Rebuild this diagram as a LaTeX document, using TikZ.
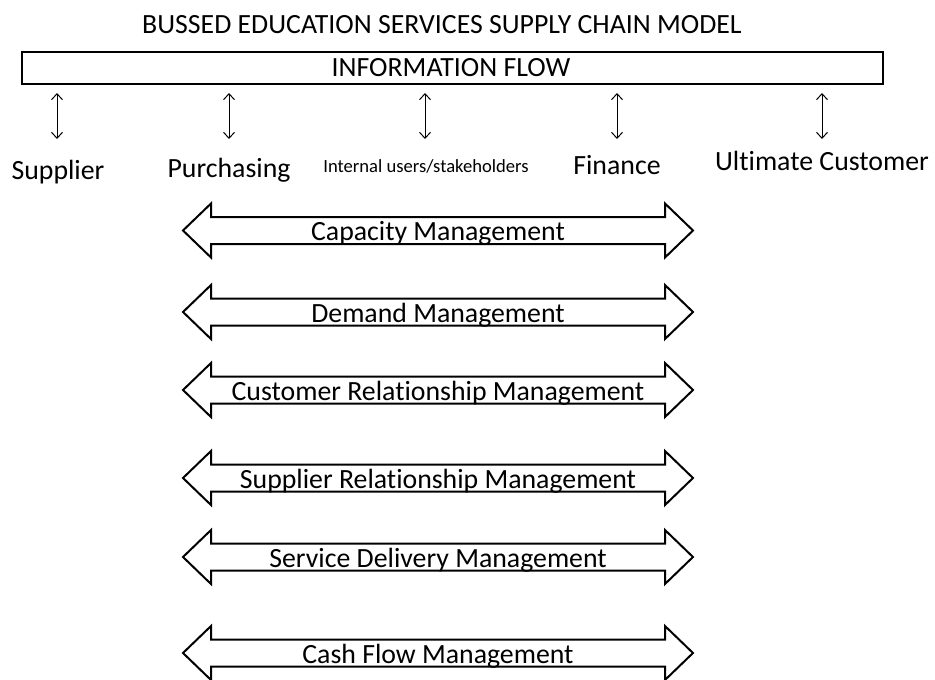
\documentclass[tikz,border=0pt]{standalone}
\usepackage{fontspec}
\setmainfont{Carlito}[Ligatures={NoCommon,NoContextual}]
\usetikzlibrary{arrows.meta}
\newcommand{\blockarrowat}[3]{%
  \draw[blockarrow] (183,#1) -- (211,#1-27) -- (211,#1-13.5) -- (665,#1-13.5) -- (665,#1-27)
    -- (693,#1) -- (665,#1+27) -- (665,#1+13.5) -- (211,#1+13.5) -- (211,#1+27) -- cycle;
  \node[bigtext, anchor=base] (#2) at (438,#1+10) {#3};
}
\begin{document}
\begin{tikzpicture}[x=1pt,y=-1pt,
  bigtext/.style={font=\fontsize{27.8}{33}\selectfont, inner sep=0pt},
  smalltext/.style={font=\fontsize{18.6}{22}\selectfont, inner sep=0pt},
  infobox/.style={draw, line width=2.6pt},
  updown/.style={{Straight Barb[length=6pt,width=11pt]}-{Straight Barb[length=6pt,width=11pt]}, line width=1pt},
  blockarrow/.style={draw, line width=2pt, fill=white, line join=miter}
]
\useasboundingbox[fill=white] (0,0) rectangle (935,680);

% title
\node[bigtext, anchor=base] (title) at (442,34) {BUSSED EDUCATION SERVICES SUPPLY CHAIN MODEL};

% information flow box
\draw[infobox] (22,52) rectangle (883,84);
\node[bigtext, anchor=base] (info) at (451,76) {INFORMATION FLOW};

\coordinate (atop) at (57,93);  \coordinate (abot) at (57,139);
\coordinate (btop) at (229,93); \coordinate (bbot) at (229,139);
\coordinate (ctop) at (425,93); \coordinate (cbot) at (425,139);
\coordinate (dtop) at (617,93); \coordinate (dbot) at (617,139);
\coordinate (etop) at (822,93); \coordinate (ebot) at (822,139);
\draw[updown] (atop) -- (abot);
\draw[updown] (btop) -- (bbot);
\draw[updown] (ctop) -- (cbot);
\draw[updown] (dtop) -- (dbot);
\draw[updown] (etop) -- (ebot);

% labels
\node[bigtext, anchor=base] (supplier) at (58,179) {Supplier};
\node[bigtext, anchor=base] (purch) at (229,177) {Purchasing};
\node[smalltext, anchor=base] (internal) at (426,172) {Internal users/stakeholders};
\node[bigtext, anchor=base] (finance) at (617,174) {Finance};
\node[bigtext, anchor=base] (ultimate) at (822,170) {Ultimate Customer};

% block arrows
\blockarrowat{230.5}{cap}{Capacity Management}
\blockarrowat{312}{dem}{Demand Management}
\blockarrowat{390}{crm}{Customer Relationship Management}
\blockarrowat{478}{srm}{Supplier Relationship Management}
\blockarrowat{557}{sdm}{Service Delivery Management}
\blockarrowat{653}{cfm}{Cash Flow Management}
\end{tikzpicture}
\end{document}
